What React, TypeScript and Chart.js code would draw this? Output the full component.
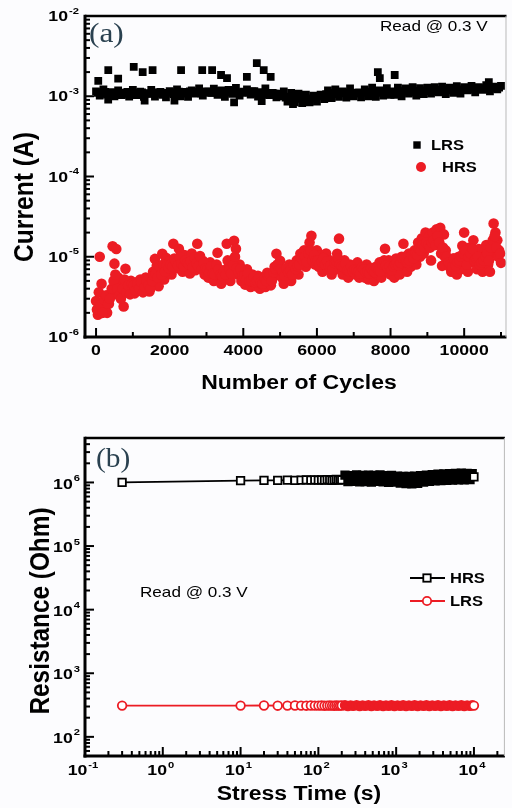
import React, { useEffect, useRef } from "react";
import { Chart, registerables } from "chart.js";

Chart.register(...registerables);

const RED = "#ec1c24";
const SX = 1.18;
const SANS = '"Liberation Sans", Arial, sans-serif';
const SERIF = '"Liberation Serif", "Times New Roman", serif';

// ---------- Panel (a): current vs cycles ----------
const cycleAxisMin = -300;
const cycleAxisMax = 11150;
const currentAxisMin = 1e-6;
const currentAxisMax = 1e-2;
const cycleMajorTicks = [0, 2000, 4000, 6000, 8000, 10000];
const cycleMinorTicks = [1000, 3000, 5000, 7000, 9000, 11000];
const currentDecadeExponents = [-6, -5, -4, -3, -2];

// LRS read current (mA), readings at cycles 0, 100, 200, ...
const lrsCycleStep = 100;
const lrsCurrent_mA = [
  1.15, 1.02, 1.22, 1.05, 1.12, 1.0, 1.18, 1.03, 1.1, 0.99, 1.2,
  1.03, 1.14, 0.98, 1.08, 1.2, 0.99, 1.12, 1.04, 0.97, 1.16,
  1.06, 1.22, 1.0, 1.13, 0.98, 1.18, 1.08, 1.25, 1.02, 1.15,
  1.1, 1.24, 1.04, 1.18, 0.98, 1.2, 1.07, 1.27, 1.02, 1.14,
  1.22, 1.05, 1.16, 0.99, 1.12, 1.25, 1.03, 1.1, 0.97, 1.08,
  1.15, 0.86, 1.1, 0.84, 1.08, 0.82, 1.05, 0.84, 1.02, 0.86,
  1.05, 0.92, 1.18, 0.95, 1.22, 0.98, 1.15, 0.96, 1.25, 1.0,
  1.1, 0.97, 1.22, 1.0, 1.28, 0.98, 1.18, 1.02, 1.26, 1.04,
  1.04, 1.28, 1.0, 1.25, 1.08, 1.3, 1.02, 1.26, 1.06, 1.28,
  1.08, 1.3, 1.12, 1.32, 1.06, 1.28, 1.1, 1.34, 1.08, 1.3,
  1.18, 1.35, 1.12, 1.3, 1.2, 1.38, 1.15, 1.32, 1.22, 1.35,
];
// LRS read current (mA), readings at cycles 50, 150, 250, ...
const lrsCurrentMid_mA = [
  1.1, 1.08, 1.13, 1.06, 1.12, 1.09, 1.11, 1.07, 1.13, 1.08,
  1.1, 1.06, 1.12, 1.09, 1.07, 1.11, 1.08, 1.13, 1.06, 1.1,
  1.12, 1.09, 1.14, 1.08, 1.11, 1.15, 1.1, 1.13, 1.09, 1.12,
  1.14, 1.1, 1.16, 1.12, 1.09, 1.15, 1.11, 1.17, 1.12, 1.1,
  1.13, 1.1, 1.15, 1.08, 1.12, 1.06, 1.1, 1.04, 1.08, 1.02,
  1.0, 0.96, 0.99, 0.94, 0.97, 0.93, 0.95, 0.92, 0.94, 0.97,
  1.0, 1.04, 1.06, 1.08, 1.1, 1.06, 1.09, 1.12, 1.08, 1.11,
  1.08, 1.12, 1.1, 1.14, 1.11, 1.08, 1.13, 1.1, 1.15, 1.12,
  1.15, 1.12, 1.16, 1.14, 1.18, 1.13, 1.17, 1.15, 1.18, 1.16,
  1.18, 1.16, 1.2, 1.17, 1.21, 1.18, 1.2, 1.19, 1.22, 1.2,
  1.24, 1.22, 1.25, 1.23, 1.26, 1.24, 1.27, 1.25, 1.26, 1.28,
];
// LRS readings that stand out of the band
const lrsExtraCycles = [60, 332, 601, 1024, 1267, 1536, 2310, 2884, 3154, 3396, 3558, 4097, 4367, 4555, 4744, 7655, 7709, 8113, 10670, 330, 1320, 2130, 3750, 4500, 5350];
const lrsExtraCurrent_mA = [1.55, 2.11, 1.66, 2.32, 2.0, 2.11, 2.11, 2.11, 2.11, 1.84, 1.68, 1.74, 2.58, 2.11, 1.74, 2.0, 1.68, 1.84, 1.5, 0.91, 0.88, 0.88, 0.84, 0.87, 0.8];

// HRS read current (uA), readings at cycles 0, 50, 100, ...
const hrsCycleStep = 50;
const hrsCurrent_uA = [
  2.8, 1.9, 10.0, 4.6, 2.3, 3.1, 2.0, 2.6, 3.4, 13.5, 8.2,
  12.5, 5.5, 4.6, 3.8, 2.4, 7.1, 4.5, 3.8, 5.0, 4.2,
  3.5, 4.8, 4.0, 5.2, 3.9, 4.5, 5.5, 4.1, 3.7, 4.6,
  6.5, 9.4, 7.7, 4.3, 6.8, 10.9, 5.2, 9.7, 7.0, 8.9,
  6.0, 14.5, 9.0, 7.2, 12.6, 8.0, 6.5, 10.5, 7.5, 9.0,
  6.2, 11.0, 8.0, 6.8, 14.5, 9.5, 7.5, 8.9, 6.0, 7.8,
  5.5, 8.5, 6.5, 5.0, 7.2, 11.2, 5.8, 4.6, 6.8, 5.2,
  14.5, 7.5, 5.0, 9.0, 15.8, 12.6, 6.0, 8.0, 5.0, 6.5,
  4.5, 7.0, 5.5, 4.2, 6.0, 5.0, 4.3, 5.8, 4.0, 4.6,
  5.0, 4.2, 6.3, 5.0, 4.4, 5.6, 7.5, 10.9, 6.0, 8.9,
  5.5, 4.6, 7.0, 6.0, 8.0, 5.0, 7.5, 6.5, 9.0, 6.0,
  10.9, 8.0, 12.0, 7.5, 9.5, 15.0, 18.3, 10.0, 8.0, 12.0,
  7.5, 10.5, 6.5, 8.5, 11.0, 7.0, 9.0, 6.0, 8.0, 7.0,
  10.9, 16.8, 7.5, 6.0, 9.0, 7.0, 5.5, 8.0, 6.5, 7.5,
  6.0, 8.5, 5.5, 7.0, 6.5, 5.5, 8.0, 5.2, 7.0, 6.0,
  5.0, 7.5, 6.0, 8.5, 5.5, 7.0, 12.6, 6.5, 9.0, 6.0,
  7.5, 5.5, 9.5, 7.0, 6.0, 10.0, 14.5, 8.0, 6.5, 11.0,
  7.5, 9.4, 12.0, 8.0, 15.0, 10.0, 17.0, 11.0, 20.0, 13.0,
  18.0, 9.0, 20.0, 14.0, 22.0, 16.0, 23.0, 7.7, 19.0, 12.0,
  9.0, 7.5, 6.5, 9.5, 8.0, 6.0, 10.0, 7.0, 13.7, 20.0,
  9.0, 6.5, 13.0, 8.5, 16.0, 11.0, 7.0, 12.5, 9.0, 6.5,
  10.0, 14.0, 8.0, 6.5, 11.0, 26.0, 20.0, 16.0, 12.0, 8.4,
];
// HRS read current (uA), readings at cycles 25, 75, 125, ...
const hrsCurrentMid_uA = [
  2.2, 3.6, 2.5, 2.0, 2.9, 3.3, 2.6, 3.0, 4.0, 5.0,
  6.0, 4.0, 3.3, 3.0, 4.0, 5.2, 3.6, 4.4, 3.4, 4.6,
  4.4, 3.8, 4.6, 4.0, 4.8, 3.6, 4.2, 5.0, 4.4, 4.0,
  5.0, 5.8, 6.2, 5.5, 7.5, 6.0, 8.0, 6.5, 7.8, 7.2,
  8.0, 7.5, 9.5, 8.5, 7.8, 10.0, 8.2, 7.6, 9.0, 8.4,
  8.0, 8.8, 7.4, 9.8, 8.2, 7.6, 10.2, 7.0, 8.4, 7.2,
  7.0, 6.4, 7.6, 6.2, 6.0, 8.0, 7.0, 6.0, 5.8, 6.6,
  6.0, 9.0, 7.0, 6.2, 8.0, 10.0, 7.2, 6.4, 7.0, 5.8,
  5.8, 5.2, 6.2, 5.0, 5.0, 5.6, 4.8, 5.0, 5.4, 4.8,
  4.6, 5.4, 5.0, 5.8, 6.0, 5.0, 6.4, 7.0, 8.0, 7.0,
  7.0, 6.5, 5.8, 7.2, 6.4, 6.8, 6.0, 7.8, 7.0, 7.6,
  8.0, 9.6, 9.0, 10.0, 8.6, 11.0, 12.0, 9.0, 10.5, 9.0,
  9.0, 8.0, 8.6, 9.6, 8.0, 8.8, 7.6, 7.8, 7.0, 8.4,
  8.8, 9.5, 8.0, 7.6, 7.4, 8.2, 6.8, 6.6, 7.6, 6.6,
  7.0, 6.8, 6.6, 6.2, 7.4, 7.0, 6.4, 6.6, 6.2, 7.2,
  6.6, 6.4, 7.2, 6.8, 6.6, 8.0, 9.0, 7.8, 7.2, 7.6,
  6.8, 7.6, 8.0, 8.4, 7.8, 8.4, 9.6, 10.0, 8.6, 8.4,
  9.0, 10.5, 9.5, 11.0, 10.5, 12.5, 12.0, 14.0, 13.0, 15.0,
  14.0, 13.0, 15.0, 16.0, 14.0, 18.0, 15.0, 11.0, 13.0, 10.0,
  10.0, 8.5, 8.0, 7.5, 9.5, 7.8, 8.6, 9.0, 10.0, 11.0,
  12.0, 8.0, 10.0, 11.0, 12.5, 9.0, 9.5, 10.0, 8.0, 8.5,
  9.0, 10.0, 11.0, 9.0, 13.0, 16.0, 18.0, 13.0, 10.0, 11.0,
];

// ---------- Panel (b): resistance vs stress time ----------
const timeAxisMin = 0.1;
const timeAxisMax = 25000;
const resAxisMin = 50;
const resAxisMax = 5e6;
const timeDecadeExponents = [-1, 0, 1, 2, 3, 4];
const resDecadeExponents = [2, 3, 4, 5, 6];

const stressTime_s = [
  0.3, 10, 20, 30, 40, 50, 60, 70, 80, 90, 100, 110, 120, 130, 140, 150, 160, 170, 180, 190, 200,
  220, 240, 260, 280, 310, 340, 370, 400, 440, 480, 520, 570, 620, 680, 740, 800, 870, 950,
  1040, 1130, 1230, 1340, 1460, 1590, 1730, 1890, 2060, 2250, 2450, 2670, 2910, 3170, 3450,
  3760, 4100, 4470, 4870, 5310, 5790, 6310, 6880, 7500, 8170, 8900, 9500, 10000,
];
const hrsResistance_MOhm = [
  1.0, 1.07, 1.08, 1.08, 1.09, 1.08, 1.09, 1.1, 1.09, 1.1, 1.09, 1.1, 1.09, 1.11, 1.1, 1.08, 1.1, 1.12, 1.09, 1.11, 1.1,
  1.3, 1.03, 1.28, 1.04, 1.31, 1.02, 1.29, 1.03, 1.3, 1.01, 1.29, 1.04, 1.31, 1.02, 1.28, 1.0, 1.29, 1.01,
  1.26, 0.98, 1.25, 0.96, 1.24, 0.95, 1.26, 0.97, 1.28, 1.01, 1.3, 1.04, 1.33, 1.06, 1.35,
  1.07, 1.36, 1.08, 1.38, 1.09, 1.39, 1.1, 1.4, 1.1, 1.39, 1.11, 1.37, 1.22,
];
const lrsResistance_Ohm = [
  310, 310, 311, 309, 310, 311, 310, 309, 311, 310, 310, 311, 309, 310, 311, 310, 309, 311, 310, 310, 311,
  314, 306, 313, 307, 314, 306, 313, 307, 314, 306, 313, 307, 314, 306, 313, 307, 314, 306,
  313, 307, 314, 306, 313, 307, 314, 306, 313, 307, 314, 306, 313, 307, 314,
  306, 313, 307, 314, 306, 313, 307, 314, 306, 313, 307, 314, 310,
];

// ---------- drawing helpers ----------
type TxtOpts = {
  font: string;
  align?: CanvasTextAlign;
  base?: CanvasTextBaseline;
  color?: string;
  sx?: number;
  rot?: boolean;
  len?: number;
};

function txt(ctx: CanvasRenderingContext2D, s: string, x: number, y: number, o: TxtOpts) {
  ctx.save();
  ctx.font = o.font;
  ctx.fillStyle = o.color || "#000";
  ctx.textAlign = o.align || "left";
  ctx.textBaseline = o.base || "middle";
  ctx.translate(x, y);
  const w = ctx.measureText(s).width;
  if (o.rot) {
    ctx.rotate(-Math.PI / 2);
    ctx.scale(o.len ? o.len / w : 1, o.sx ?? SX);
  } else {
    ctx.scale(o.len ? o.len / w : o.sx ?? SX, 1);
  }
  ctx.fillText(s, 0, 0);
  ctx.restore();
}

function seg(ctx: CanvasRenderingContext2D, x1: number, y1: number, x2: number, y2: number) {
  ctx.beginPath();
  ctx.moveTo(x1, y1);
  ctx.lineTo(x2, y2);
  ctx.stroke();
}

function pow10Label(ctx: CanvasRenderingContext2D, e: number, x: number, y: number, align: "right" | "center") {
  const base = "bold 15px " + SANS;
  const sup = "bold 9.5px " + SANS;
  const es = e < 0 ? "-" + -e : String(e);
  ctx.save();
  ctx.font = base;
  const w1 = ctx.measureText("10").width * SX;
  ctx.font = sup;
  const w2 = ctx.measureText(es).width * SX;
  ctx.restore();
  const total = w1 + 1 + w2;
  const left = align === "right" ? x - total : x - total / 2;
  txt(ctx, "10", left, y, { font: base });
  txt(ctx, es, left + w1 + 1, y - 6, { font: sup });
}

function logValues(min: number, max: number) {
  const out: { v: number; major: boolean }[] = [];
  for (let e = Math.floor(Math.log10(min)); e <= Math.ceil(Math.log10(max)); e++) {
    for (let m = 1; m <= 9; m++) {
      const v = m * Math.pow(10, e);
      if (v >= min * 0.999 && v <= max * 1.001) out.push({ v, major: m === 1 });
    }
  }
  return out;
}

function drawFrame(ctx: CanvasRenderingContext2D, a: { left: number; right: number; top: number; bottom: number }) {
  ctx.save();
  ctx.strokeStyle = "#000";
  ctx.lineWidth = 2.5;
  seg(ctx, a.left, a.top, a.right, a.top);
  ctx.lineWidth = 3;
  seg(ctx, a.left, a.top - 1.25, a.left, a.bottom + 1.5);
  seg(ctx, a.left - 1.5, a.bottom, a.right, a.bottom);
  ctx.strokeStyle = "#b9b9b9";
  ctx.lineWidth = 1;
  seg(ctx, a.right - 0.5, a.top, a.right - 0.5, a.bottom);
  ctx.restore();
}

const MAJ = 9;
const MIN = 5;

const panelAPlugin = {
  id: "panelA",
  afterDatasetsDraw(chart: any) {
    const ctx: CanvasRenderingContext2D = chart.ctx;
    const a = chart.chartArea;
    const xs = chart.scales.x;
    const ys = chart.scales.y;
    drawFrame(ctx, a);
    ctx.save();
    ctx.strokeStyle = "#000";
    ctx.lineWidth = 2;
    for (const t of logValues(currentAxisMin, currentAxisMax)) {
      const y = ys.getPixelForValue(t.v);
      if (y < a.top + 1 || y > a.bottom - 1) continue;
      seg(ctx, a.left, y, a.left + (t.major ? MAJ : MIN), y);
    }
    for (const c of cycleMajorTicks) {
      const x = xs.getPixelForValue(c);
      seg(ctx, x, a.bottom, x, a.bottom - MAJ);
    }
    for (const c of cycleMinorTicks) {
      const x = xs.getPixelForValue(c);
      seg(ctx, x, a.bottom, x, a.bottom - MIN);
    }
    ctx.restore();
    for (const e of currentDecadeExponents) {
      pow10Label(ctx, e, 79, ys.getPixelForValue(Math.pow(10, e)) + 1, "right");
    }
    for (const c of cycleMajorTicks) {
      txt(ctx, String(c), xs.getPixelForValue(c), 351, { font: "bold 15px " + SANS, align: "center" });
    }
    txt(ctx, "Number of Cycles", 299, 384, { font: "bold 19.5px " + SANS, align: "center" });
    txt(ctx, "Current (A)", 25, 197, { font: "bold 24px " + SANS, align: "center", rot: true, len: 130 });
    txt(ctx, "(a)", 89, 35, { font: "28px " + SERIF, color: "#2a4150", sx: 1.12 });
    txt(ctx, "Read @ 0.3 V", 380, 27, { font: "14.5px " + SANS, color: "#000" });
    // legend
    ctx.save();
    ctx.fillStyle = "#000";
    ctx.fillRect(417 - 3.7, 145 - 3.7, 7.4, 7.4);
    ctx.fillStyle = RED;
    ctx.beginPath();
    ctx.arc(421, 167, 5, 0, Math.PI * 2);
    ctx.fill();
    ctx.restore();
    txt(ctx, "LRS", 431, 146, { font: "bold 14px " + SANS });
    txt(ctx, "HRS", 442, 168, { font: "bold 14px " + SANS });
  },
};

const panelBPlugin = {
  id: "panelB",
  afterDatasetsDraw(chart: any) {
    const ctx: CanvasRenderingContext2D = chart.ctx;
    const a = chart.chartArea;
    const xs = chart.scales.x;
    const ys = chart.scales.y;
    drawFrame(ctx, a);
    ctx.save();
    ctx.strokeStyle = "#000";
    ctx.lineWidth = 2;
    for (const t of logValues(resAxisMin, resAxisMax)) {
      const y = ys.getPixelForValue(t.v);
      if (y < a.top + 1 || y > a.bottom - 1) continue;
      seg(ctx, a.left, y, a.left + (t.major ? MAJ : MIN), y);
    }
    for (const t of logValues(timeAxisMin, timeAxisMax)) {
      const x = xs.getPixelForValue(t.v);
      if (x < a.left + 1 || x > a.right - 1) continue;
      seg(ctx, x, a.bottom, x, a.bottom - (t.major ? MAJ : MIN));
    }
    ctx.restore();
    for (const e of resDecadeExponents) {
      pow10Label(ctx, e, 80, ys.getPixelForValue(Math.pow(10, e)) + 2, "right");
    }
    for (const e of timeDecadeExponents) {
      pow10Label(ctx, e, xs.getPixelForValue(Math.pow(10, e)) - 2, 371, "center");
    }
    txt(ctx, "Stress Time (s)", 299, 395, { font: "bold 19.5px " + SANS, align: "center" });
    txt(ctx, "Resistance (Ohm)", 41, 211, { font: "bold 24px " + SANS, align: "center", rot: true, len: 207 });
    txt(ctx, "(b)", 96, 60, { font: "28px " + SERIF, color: "#2a4150", sx: 1.05 });
    txt(ctx, "Read @ 0.3 V", 140, 193, { font: "14.5px " + SANS, color: "#000" });
    // legend
    ctx.save();
    ctx.lineWidth = 2;
    ctx.strokeStyle = "#000";
    seg(ctx, 410, 178, 445, 178);
    ctx.fillStyle = "#fff";
    ctx.lineWidth = 1.8;
    ctx.fillRect(427 - 3.7, 178 - 3.7, 7.4, 7.4);
    ctx.strokeRect(427 - 3.7, 178 - 3.7, 7.4, 7.4);
    ctx.strokeStyle = RED;
    ctx.lineWidth = 2;
    seg(ctx, 410, 201, 445, 201);
    ctx.lineWidth = 1.8;
    ctx.beginPath();
    ctx.arc(427, 201, 4.2, 0, Math.PI * 2);
    ctx.fill();
    ctx.stroke();
    ctx.restore();
    txt(ctx, "HRS", 450, 179, { font: "bold 14px " + SANS });
    txt(ctx, "LRS", 450, 202, { font: "bold 14px " + SANS });
  },
};

export default function App() {
  const refA = useRef<HTMLCanvasElement | null>(null);
  const refB = useRef<HTMLCanvasElement | null>(null);

  useEffect(() => {
    if (!refA.current || !refB.current) return;

    const lrsPoints = lrsCurrent_mA
      .map((v, i) => ({ x: i * lrsCycleStep, y: v * 1e-3 }))
      .concat(lrsCurrentMid_mA.map((v, i) => ({ x: i * lrsCycleStep + lrsCycleStep / 2, y: v * 1e-3 })))
      .concat(lrsExtraCycles.map((c, i) => ({ x: c, y: lrsExtraCurrent_mA[i] * 1e-3 })));
    const hrsPoints = hrsCurrent_uA
      .map((v, i) => ({ x: i * hrsCycleStep, y: v * 1e-6 }))
      .concat(hrsCurrentMid_uA.map((v, i) => ({ x: i * hrsCycleStep + hrsCycleStep / 2, y: v * 1e-6 })));

    const chartA = new Chart(refA.current, {
      type: "scatter",
      data: {
        datasets: [
          {
            label: "LRS",
            data: lrsPoints,
            pointStyle: "rect",
            pointRadius: 5.5,
            pointBackgroundColor: "#000",
            pointBorderColor: "#000",
            pointBorderWidth: 0,
          },
          {
            label: "HRS",
            data: hrsPoints,
            pointStyle: "circle",
            pointRadius: 5.3,
            pointBackgroundColor: RED,
            pointBorderColor: RED,
            pointBorderWidth: 0,
          },
        ],
      },
      options: {
        responsive: false,
        animation: false,
        devicePixelRatio: 1,
        events: [],
        layout: { padding: { left: 85, top: 16, right: 3, bottom: 63 } },
        plugins: { legend: { display: false }, tooltip: { enabled: false } },
        scales: {
          x: { type: "linear", min: cycleAxisMin, max: cycleAxisMax, display: false },
          y: { type: "logarithmic", min: currentAxisMin, max: currentAxisMax, display: false },
        },
      } as any,
      plugins: [panelAPlugin],
    });

    const last = stressTime_s.length - 1;
    const dense = (i: number) => stressTime_s[i] > 200 && i < last;
    const hrsRPoints = stressTime_s.map((t, i) => ({ x: t, y: hrsResistance_MOhm[i] * 1e6 }));
    const lrsRPoints = stressTime_s.map((t, i) => ({ x: t, y: lrsResistance_Ohm[i] }));

    const chartB = new Chart(refB.current, {
      type: "scatter",
      data: {
        datasets: [
          {
            label: "LRS",
            data: lrsRPoints,
            showLine: true,
            borderColor: RED,
            borderWidth: 1.8,
            pointStyle: "circle",
            pointRadius: 4.3,
            pointBorderWidth: 1.8,
            pointBorderColor: RED,
            pointBackgroundColor: (c: any) => (dense(c.dataIndex) ? RED : "#fff"),
          },
          {
            label: "HRS",
            data: hrsRPoints,
            showLine: true,
            borderColor: "#000",
            borderWidth: 1.8,
            pointStyle: "rect",
            pointRadius: 5.3,
            pointBorderWidth: 1.8,
            pointBorderColor: "#000",
            pointBackgroundColor: (c: any) => (dense(c.dataIndex) ? "#000" : "#fff"),
          },
        ],
      },
      options: {
        responsive: false,
        animation: false,
        devicePixelRatio: 1,
        events: [],
        layout: { padding: { left: 85, top: 38, right: 3, bottom: 52 } },
        plugins: { legend: { display: false }, tooltip: { enabled: false } },
        scales: {
          x: { type: "logarithmic", min: timeAxisMin, max: timeAxisMax, display: false },
          y: { type: "logarithmic", min: resAxisMin, max: resAxisMax, display: false },
        },
      } as any,
      plugins: [panelBPlugin],
    });

    return () => {
      chartA.destroy();
      chartB.destroy();
    };
  }, []);

  return (
    <div
      style={{
        position: "fixed",
        left: 0,
        top: 0,
        width: 512,
        height: 808,
        overflow: "hidden",
        background: "#fcfcfe",
      }}
    >
      <canvas
        ref={refA}
        width={512}
        height={400}
        style={{ position: "absolute", left: 0, top: 0, width: 512, height: 400 }}
      />
      <canvas
        ref={refB}
        width={512}
        height={408}
        style={{ position: "absolute", left: 0, top: 400, width: 512, height: 408 }}
      />
    </div>
  );
}
